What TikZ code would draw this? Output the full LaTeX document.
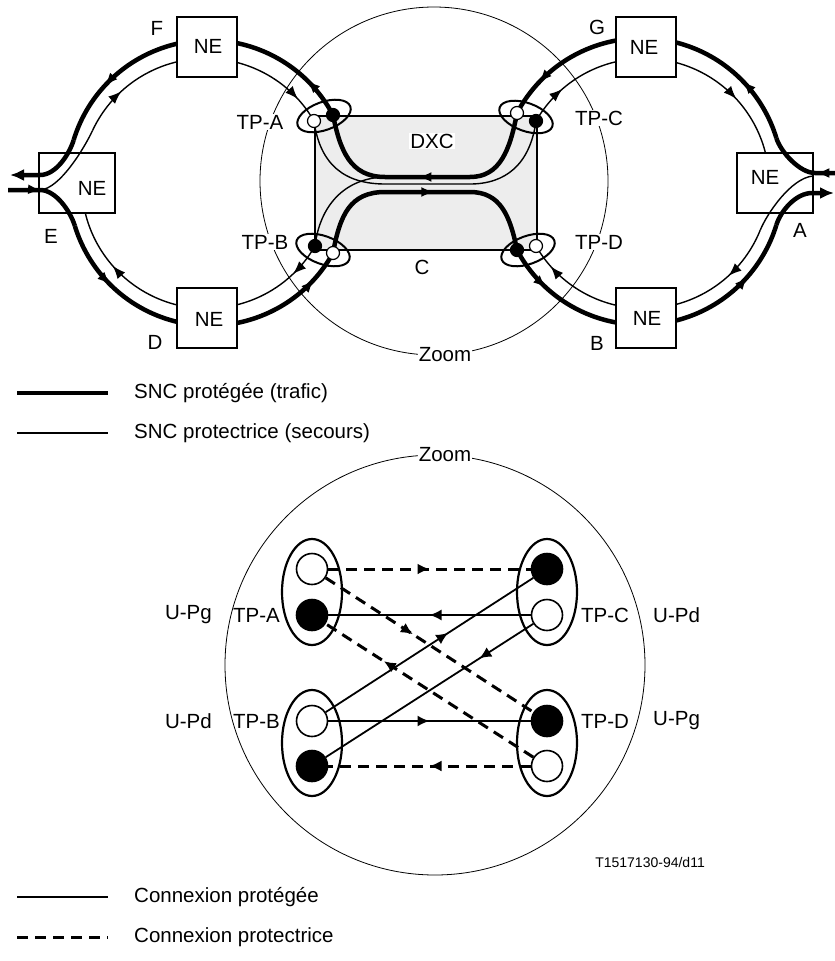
\documentclass[tikz,border=0pt]{standalone}
\usepackage{fontspec}
\setmainfont{Liberation Sans}
\usetikzlibrary{arrows.meta,positioning,calc,decorations.markings}

\tikzset{
  trafic/.style={line width=4.5pt},
  secours/.style={line width=1.4pt},
  fwd/.style={postaction={decorate,decoration={markings,
    mark=at position #1 with {\arrow{Latex[length=13pt,width=10pt]}}}}},
  bwd/.style={postaction={decorate,decoration={markings,
    mark=at position #1 with {\arrowreversed{Latex[length=13pt,width=10pt]}}}}},
  lbl/.style={inner sep=1pt,font=\fontsize{20.5}{24}\selectfont},
  nebox/.style={draw,line width=1.8pt,fill=white,minimum width=60pt,minimum height=60pt,inner sep=0pt},
  nesidebox/.style={nebox,minimum width=76pt},
  tpellipse/.style={line width=2pt},
  tpopen/.style={circle,draw,fill=white,line width=1.2pt,minimum size=13pt,inner sep=0pt},
  tpshut/.style={tpopen,fill=black},
  zopen/.style={circle,draw,fill=white,line width=1.6pt,minimum size=31pt,inner sep=0pt},
  zshut/.style={zopen,fill=black},
  protegee/.style={line width=1.8pt},
  protectrice/.style={line width=3pt,dash pattern=on 11pt off 7pt},
  midtip/.style={postaction={decorate,decoration={markings,
    mark=at position #1 with {\arrow{Latex[length=12pt,width=11pt]}}}}},
}

\begin{document}
\begin{tikzpicture}[x=1pt,y=-1pt]
\useasboundingbox (0,0) rectangle (835,961);

% upper picture: zoom circle and DXC
\draw[line width=0.8pt] (434,181) circle[radius=174];
\node[draw,line width=1.6pt,fill=black!7,minimum width=222pt,minimum height=134pt,inner sep=0pt] (dxc) at (426,183) {};

\coordinate (TPAb) at (333,115);
\coordinate (TPAw) at (314,121);
\coordinate (TPBw) at (333,253);
\coordinate (TPBb) at (315,246);
\coordinate (TPCw) at (517,113);
\coordinate (TPCb) at (536,121);
\coordinate (TPDb) at (517,250);
\coordinate (TPDw) at (536,246);

% side NE boxes (lines run over them)
\node[nesidebox] (neE) at (77,183) {};
\node[nesidebox] (neA) at (775,183) {};

% left ring
\draw[trafic,fwd=0.13,fwd=0.81] (TPAb) arc[start angle=-28,end angle=-163,radius=141] coordinate (Lto);
\draw[trafic,-{Latex[length=14pt,width=12pt]}] (Lto) .. controls +(-4.4,14.3) and +(16,0) .. (40,175) -- (10,175);
\draw[trafic,bwd=0.10,bwd=0.79] (TPBw) arc[start angle=29,end angle=163,radius=141] coordinate (Lbo);
\draw[trafic,fwd=0.39] (8,190) -- (40,190) .. controls +(16,0) and +(-4.4,-14.3) .. (Lbo);
\draw[secours,bwd=0.10,bwd=0.82] (TPAw) arc[start angle=-30,end angle=-155,radius=125] coordinate (Lti);
\draw[secours] (Lti) .. controls +(-7.6,16.3) and +(20,-1) .. (40,190);
\draw[secours,fwd=0.12,fwd=0.80] (TPBb) arc[start angle=30,end angle=166,radius=125];

% right ring
\draw[trafic,bwd=0.114,bwd=0.80] (TPCw) arc[start angle=-152,end angle=-17,radius=141] coordinate (Rto);
\draw[trafic,fwd=0.25] (835,173) -- (815,173) .. controls +(-15,0) and +(4.4,14.3) .. (Rto);
\draw[trafic,fwd=0.144,fwd=0.82] (TPDb) arc[start angle=152,end angle=17,radius=141] coordinate (Rbo);
\draw[trafic,-{Latex[length=14pt,width=12pt]}] (Rbo) .. controls +(4.4,-14.3) and +(-16,0) .. (812,193) -- (834,193);
\draw[secours,fwd=0.14,fwd=0.79] (TPCb) arc[start angle=-150,end angle=-14,radius=125];
\draw[secours,bwd=0.09,bwd=0.80] (TPDw) arc[start angle=150,end angle=22,radius=125] coordinate (Rbi);
\draw[secours] (Rbi) .. controls +(6.8,-16.7) and +(-22,2) .. (813,176);

% through the DXC
\draw[trafic,fwd=0.53] (TPCw) .. controls (510,150) and (500,177) .. (470,177) -- (385,177) .. controls (350,177) and (340,150) .. (TPAb);
\draw[trafic,fwd=0.54] (TPBw) .. controls (340,215) and (350,192) .. (385,192) -- (470,192) .. controls (500,192) and (510,215) .. (TPDb);
\draw[secours] (TPAw) .. controls (320,165) and (345,184) .. (385,184) -- (470,184) .. controls (505,184) and (530,165) .. (TPCb);
\draw[secours] (TPBb) .. controls (320,205) and (345,178) .. (385,177);

% top and bottom NE boxes
\node[nebox] (neF) at (207,47) {};
\node[nebox] (neD) at (207,318) {};
\node[nebox] (neG) at (646,47) {};
\node[nebox] (neB) at (646,318) {};

% termination points
\draw[tpellipse,rotate around={20:(324,116)}] (324,116) ellipse[x radius=28,y radius=14];
\draw[tpellipse,rotate around={-20:(323,250)}] (323,250) ellipse[x radius=28,y radius=14];
\draw[tpellipse,rotate around={-20:(526,117)}] (526,117) ellipse[x radius=28,y radius=14];
\draw[tpellipse,rotate around={20:(528,250)}] (528,250) ellipse[x radius=28,y radius=14];
\node[tpshut] (tpAb) at (TPAb) {};
\node[tpopen] (tpAw) at (TPAw) {};
\node[tpopen] (tpBw) at (TPBw) {};
\node[tpshut] (tpBb) at (TPBb) {};
\node[tpopen] (tpCw) at (TPCw) {};
\node[tpshut] (tpCb) at (TPCb) {};
\node[tpshut] (tpDb) at (TPDb) {};
\node[tpopen] (tpDw) at (TPDw) {};

% labels
\node[lbl] (neFlbl) at (208,46) {NE};
\node[lbl] (neDlbl) at (209,319) {NE};
\node[lbl] (neGlbl) at (644,47) {NE};
\node[lbl] (neBlbl) at (647,318) {NE};
\node[lbl] (neElbl) at (92,188) {NE};
\node[lbl] (neAlbl) at (765,177) {NE};
\node[lbl] (lF) at (157,28) {F};
\node[lbl] (lE) at (51,236) {E};
\node[lbl] (lD) at (155,342) {D};
\node[lbl] (lG) at (597,27) {G};
\node[lbl] (lA) at (800,230) {A};
\node[lbl] (lB) at (597,343) {B};
\node[lbl,fill=white] (tpAlbl) at (260,122) {TP-A};
\node[lbl,fill=white] (tpBlbl) at (265,242) {TP-B};
\node[lbl,fill=white] (tpClbl) at (599,118) {TP-C};
\node[lbl,fill=white] (tpDlbl) at (599,242) {TP-D};
\node[lbl,fill=white] (dxclbl) at (432,141) {DXC};
\node[lbl] (clbl) at (422,267) {C};
\node[lbl,fill=white] (zoomtoplbl) at (445,355) {Zoom};

% legend of the upper picture
\draw[trafic] (17,393) -- (108,393);
\node[lbl,anchor=west] (legtrafic) at (133,393) {SNC protégée (trafic)};
\draw[secours] (17,433) -- (108,433);
\node[lbl,anchor=west] (legsecours) at (133,433) {SNC protectrice (secours)};

% lower picture: zoom
\draw[line width=0.8pt] (435,665) circle[radius=210];
\node[lbl,fill=white] (zoomlbl) at (445,455) {Zoom};
\draw[line width=2.2pt] (312,592) ellipse[x radius=30,y radius=53];
\draw[line width=2.2pt] (547,592) ellipse[x radius=30,y radius=53];
\draw[line width=2.2pt] (312,743) ellipse[x radius=30,y radius=53];
\draw[line width=2.2pt] (547,743) ellipse[x radius=30,y radius=53];
\node[zopen] (Aw) at (312,569) {};
\node[zshut] (Ab) at (312,615) {};
\node[zshut] (Cb) at (547,569) {};
\node[zopen] (Cw) at (547,615) {};
\node[zopen] (Bw) at (312,721) {};
\node[zshut] (Bb) at (312,766) {};
\node[zshut] (Db) at (547,721) {};
\node[zopen] (Dw) at (547,766) {};

\draw[protectrice,midtip=0.5] (Aw) -- (Cb);
\draw[protegee,midtip=0.5] (Cw) -- (Ab);
\draw[protectrice,midtip=0.42] (Aw) -- (Db);
\draw[protectrice,midtip=0.72] (Dw) -- (Ab);
\draw[protegee,midtip=0.59] (Bw) -- (Cb);
\draw[protegee,midtip=0.26] (Cw) -- (Bb);
\draw[protegee,midtip=0.5] (Bw) -- (Db);
\draw[protectrice,midtip=0.5] (Dw) -- (Bb);

\node[lbl,anchor=east] (zAlbl) at (281,615) {TP-A};
\node[lbl,anchor=east] (zAupg) at (213,615) {U-Pg};
\node[lbl,anchor=west] (zClbl) at (580,615) {TP-C};
\node[lbl,anchor=west] (zCupd) at (652,615) {U-Pd};
\node[lbl,anchor=east] (zBlbl) at (281,721) {TP-B};
\node[lbl,anchor=east] (zBupd) at (213,721) {U-Pd};
\node[lbl,anchor=west] (zDlbl) at (580,721) {TP-D};
\node[lbl,anchor=west] (zDupg) at (652,721) {U-Pg};

\node[inner sep=1pt,font=\fontsize{14}{16}\selectfont,anchor=east] (ref) at (706,862) {T1517130-94/d11};

% legend of the lower picture
\draw[protegee] (17,897) -- (108,897);
\node[lbl,anchor=west] (legprot) at (133,897) {Connexion protégée};
\draw[protectrice] (17,937) -- (108,937);
\node[lbl,anchor=west] (legsec) at (133,937) {Connexion protectrice};
\end{tikzpicture}
\end{document}
